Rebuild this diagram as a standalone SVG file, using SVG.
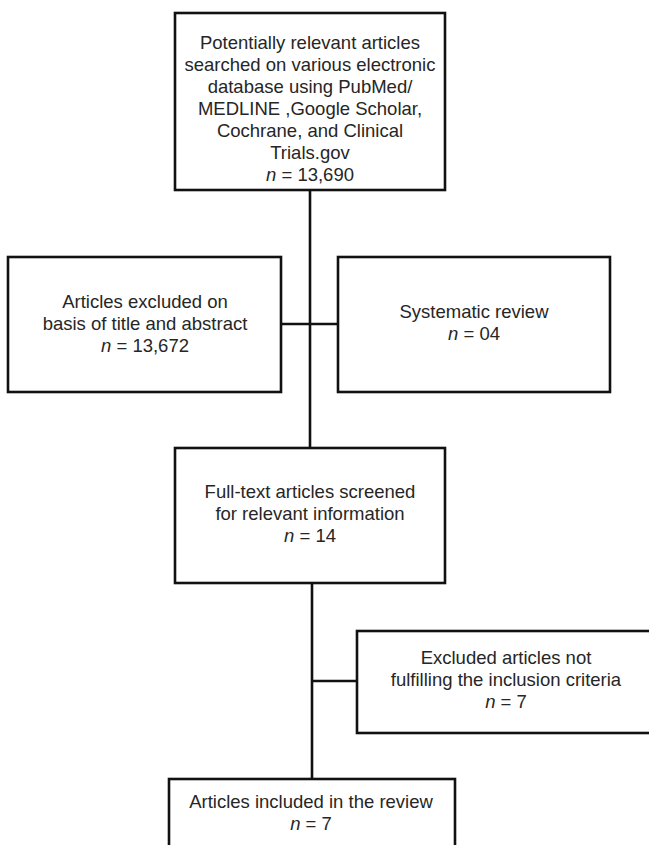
<svg xmlns="http://www.w3.org/2000/svg" width="649" height="845" viewBox="0 0 649 845">
<style>
.box{fill:#fff;stroke:#111;stroke-width:2.6}
.ln{stroke:#111;stroke-width:2.6;fill:none}
text{font-family:"Liberation Sans",Arial,sans-serif;font-size:18.5px;fill:#262626;text-anchor:middle}
.i{font-style:italic}
</style>
<rect width="649" height="845" fill="#fff"/>
<g id="connectors">
<line class="ln" x1="310" y1="190" x2="310" y2="448"/>
<line class="ln" x1="281" y1="324" x2="338" y2="324"/>
<line class="ln" x1="312" y1="583" x2="312" y2="779"/>
<line class="ln" x1="312" y1="681" x2="357" y2="681"/>
</g>
<g id="search">
<rect class="box" x="175" y="13" width="270" height="177"/>
<text x="310" y="49">Potentially relevant articles</text>
<text x="310" y="71">searched on various electronic</text>
<text x="310" y="93">database using PubMed/</text>
<text x="310" y="115">MEDLINE ,Google Scholar,</text>
<text x="310" y="137">Cochrane, and Clinical</text>
<text x="310" y="159">Trials.gov</text>
<text x="310" y="181"><tspan class="i">n</tspan> = 13,690</text>
</g>
<g id="excluded1">
<rect class="box" x="8" y="257" width="273" height="135"/>
<text x="145" y="308">Articles excluded on</text>
<text x="145" y="330">basis of title and abstract</text>
<text x="145" y="352"><tspan class="i">n</tspan> = 13,672</text>
</g>
<g id="sysreview">
<rect class="box" x="338" y="257" width="272" height="135"/>
<text x="474" y="318">Systematic review</text>
<text x="474" y="340"><tspan class="i">n</tspan> = 04</text>
</g>
<g id="fulltext">
<rect class="box" x="175" y="448" width="270" height="135"/>
<text x="310" y="498">Full-text articles screened</text>
<text x="310" y="520">for relevant information</text>
<text x="310" y="542"><tspan class="i">n</tspan> = 14</text>
</g>
<g id="excluded2">
<rect class="box" x="357" y="631" width="300" height="102"/>
<text x="506" y="664">Excluded articles not</text>
<text x="506" y="686">fulfilling the inclusion criteria</text>
<text x="506" y="708"><tspan class="i">n</tspan> = 7</text>
</g>
<g id="included">
<rect class="box" x="169" y="779" width="286" height="80"/>
<text x="311" y="808">Articles included in the review</text>
<text x="311" y="830"><tspan class="i">n</tspan> = 7</text>
</g>
</svg>
